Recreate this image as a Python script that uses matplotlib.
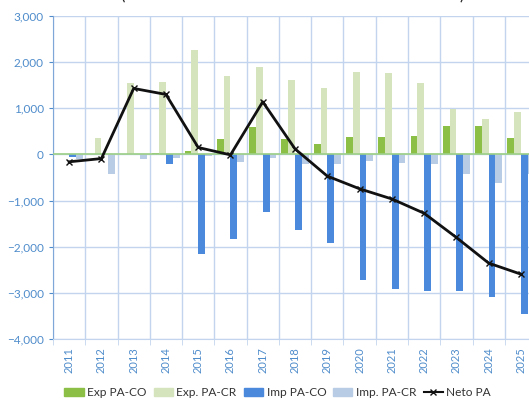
import numpy as np
import matplotlib
matplotlib.use("Agg")
import matplotlib.pyplot as plt
from matplotlib.lines import Line2D
from matplotlib.patches import Patch

years = ["2011", "2012", "2013", "2014", "2015", "2016", "2017", "2018",
         "2019", "2020", "2021", "2022", "2023", "2024", "2025"]
exp_co = [0, 0, 0, 20, 80, 330, 600, 340, 230, 380, 380, 390, 615, 610, 355]
exp_cr = [0, 360, 1540, 1580, 2260, 1690, 1900, 1610, 1440, 1790, 1770, 1540, 980, 775, 920]
imp_co = [-60, 0, 0, -200, -2150, -1830, -1250, -1630, -1920, -2720, -2910, -2970, -2970, -3080, -3450]
imp_cr = [-95, -435, -100, -80, -40, -170, -70, -200, -215, -150, -180, -200, -435, -620, -420]
neto = [-160, -90, 1430, 1300, 150, -10, 1140, 120, -470, -745, -965, -1275, -1800, -2355, -2595]

series = [
    ("Exp PA-CO", exp_co, "#8CBF45"),
    ("Exp. PA-CR", exp_cr, "#D6E4BD"),
    ("Imp PA-CO", imp_co, "#4A89DC"),
    ("Imp. PA-CR", imp_cr, "#B8CCE6"),
]

plt.rcParams["font.family"] = ["Lato", "DejaVu Sans"]

fig = plt.figure(figsize=(5.29, 4.05), dpi=100)
ax = fig.add_axes([0.1002, 0.163, 0.915, 0.7975])

x = np.arange(len(years))
w = 0.21
offsets = [-1.5 * w, -0.5 * w, 0.5 * w, 1.5 * w]
for (name, vals, col), off in zip(series, offsets):
    ax.bar(x + off, vals, width=w, color=col, zorder=2)

ax.plot(x, neto, color="#111111", lw=2, marker="x", ms=4, mew=1,
        zorder=4)

ax.set_xlim(-0.5, len(years) - 0.5)
ax.set_ylim(-4000, 3000)
ax.set_yticks(np.arange(-4000, 3001, 1000))
ax.yaxis.set_major_formatter(matplotlib.ticker.StrMethodFormatter("{x:,.0f}"))
ax.set_xticks(x)
ax.set_xticklabels(years, rotation=90)
ax.set_xticks(np.arange(-0.5, len(years), 1), minor=True)

grid_c = "#C3D5EE"
ax.grid(axis="y", color=grid_c, lw=1, zorder=0)
ax.grid(axis="x", which="minor", color=grid_c, lw=1, zorder=0)
ax.axhline(0, color="#9CCF86", lw=1.2, zorder=3)

tick_c = "#4F8CCB"
ax.tick_params(axis="y", colors=tick_c, labelsize=8.5, length=3, width=0.8)
ax.tick_params(axis="x", which="major", length=0, labelsize=8,
               labelcolor=tick_c, pad=6)
ax.tick_params(axis="x", which="minor", length=4, color=grid_c)
for s in ["top", "right"]:
    ax.spines[s].set_visible(False)
ax.spines["left"].set_color("#7FA8D8")
ax.spines["bottom"].set_color(grid_c)

handles = [Patch(color=c, label=n) for n, _, c in series]
handles.append(Line2D([], [], color="#111111", lw=1.5, marker="x", ms=4,
                      label="Neto PA"))
fig.legend(handles=handles, loc="center", bbox_to_anchor=(0.525, 0.03),
           ncol=5, frameon=False, fontsize=8.6, handlelength=1.6,
           handleheight=0.7, handletextpad=0.3, columnspacing=0.6,
           labelcolor="#333333")

# cut-off title, only the brackets reach into the frame
fig.text(0.227, 1.012, "(", fontsize=12, color="#222222", va="center")
fig.text(0.868, 1.012, ")", fontsize=12, color="#222222", va="center")

fig.savefig("out.png", dpi=100)
